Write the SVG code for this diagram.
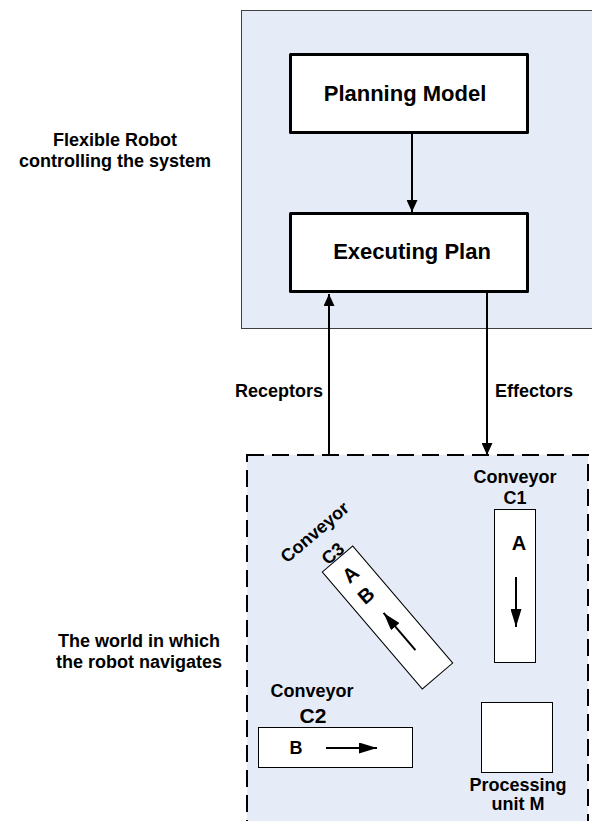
<svg xmlns="http://www.w3.org/2000/svg" width="592" height="821" viewBox="0 0 592 821">
<defs>
<style>
.t{font-family:"Liberation Sans",Arial,sans-serif;font-weight:bold;fill:#000;text-anchor:middle}
.lbl{font-size:18px}
.big{font-size:22px}
.node{fill:#fff;stroke:#000;stroke-width:3;stroke-linejoin:round}
.thin{fill:#fff;stroke:#000;stroke-width:1}
.ln{stroke:#000;stroke-width:2;fill:none}
</style>
<marker id="arr" markerUnits="userSpaceOnUse" markerWidth="12" markerHeight="11" refX="12" refY="5.5" orient="auto"><path d="M0,0 L12,5.5 L0,11 z" fill="#000"/></marker>
<marker id="arr2" markerUnits="userSpaceOnUse" markerWidth="18" markerHeight="11" refX="18" refY="5.5" orient="auto"><path d="M0,0 L18,5.5 L0,11 z" fill="#000"/></marker>
</defs>
<rect width="592" height="821" fill="#fff"/>
<g id="robot-system">
<rect x="241.5" y="10.5" width="360" height="318" fill="#E6ECF7" stroke="#404040" stroke-width="1"/>
</g>
<g id="world">
<rect x="247" y="455" width="341" height="400" fill="#E6ECF7" stroke="#000" stroke-width="2" stroke-dasharray="17,8"/>
</g>
<g id="label-robot">
<text class="t lbl" x="115" y="146">Flexible Robot</text>
<text class="t lbl" x="115" y="167">controlling the system</text>
</g>
<g id="label-world">
<text class="t lbl" x="139" y="647">The world in which</text>
<text class="t lbl" x="139" y="668">the robot navigates</text>
</g>
<g id="planning-model">
<rect class="node" x="290.5" y="54.5" width="237" height="78"/>
<text class="t big" x="405" y="101">Planning Model</text>
</g>
<g id="executing-plan">
<rect class="node" x="290.5" y="213.5" width="237" height="78"/>
<text class="t big" x="412" y="259">Executing Plan</text>
</g>
<g id="connectors">
<line class="ln" x1="412" y1="134" x2="412" y2="212" marker-end="url(#arr)"/>
<line class="ln" x1="329" y1="455" x2="329" y2="294" marker-end="url(#arr)"/>
<line class="ln" x1="487" y1="293" x2="487" y2="455" marker-end="url(#arr)"/>
<text class="t lbl" x="323" y="397" style="text-anchor:end">Receptors</text>
<text class="t lbl" x="495" y="397" style="text-anchor:start">Effectors</text>
</g>
<g id="conveyor-c1">
<text class="t lbl" x="515" y="483">Conveyor</text>
<text class="t lbl" x="515" y="504">C1</text>
<rect class="thin" x="494.5" y="509.5" width="41" height="153"/>
<text class="t" style="font-size:20px" x="519" y="550">A</text>
<line class="ln" x1="516" y1="577" x2="516" y2="627" marker-end="url(#arr2)"/>
</g>
<g id="conveyor-c2">
<text class="t lbl" x="312" y="697">Conveyor</text>
<text class="t" style="font-size:21px" x="313" y="723">C2</text>
<rect class="thin" x="258.5" y="727.5" width="154" height="40"/>
<text class="t lbl" x="296" y="754">B</text>
<line class="ln" x1="326" y1="748" x2="377" y2="748" marker-end="url(#arr2)"/>
</g>
<g id="conveyor-c3" transform="translate(387.5,617.5) rotate(-40.5)">
<text class="t lbl" x="0" y="-106">Conveyor</text>
<text class="t lbl" x="0" y="-78">C3</text>
<rect class="thin" x="-20" y="-77" width="40" height="154"/>
<text class="t" style="font-size:20px" x="0" y="-50">A</text>
<text class="t" style="font-size:20px" x="-2" y="-24">B</text>
<line class="ln" x1="0" y1="43" x2="0" y2="-6" marker-end="url(#arr2)"/>
</g>
<g id="processing-unit">
<rect class="thin" x="481.5" y="702.5" width="71" height="70"/>
<text class="t lbl" x="518" y="791">Processing</text>
<text class="t lbl" x="518" y="810">unit M</text>
</g>
</svg>
